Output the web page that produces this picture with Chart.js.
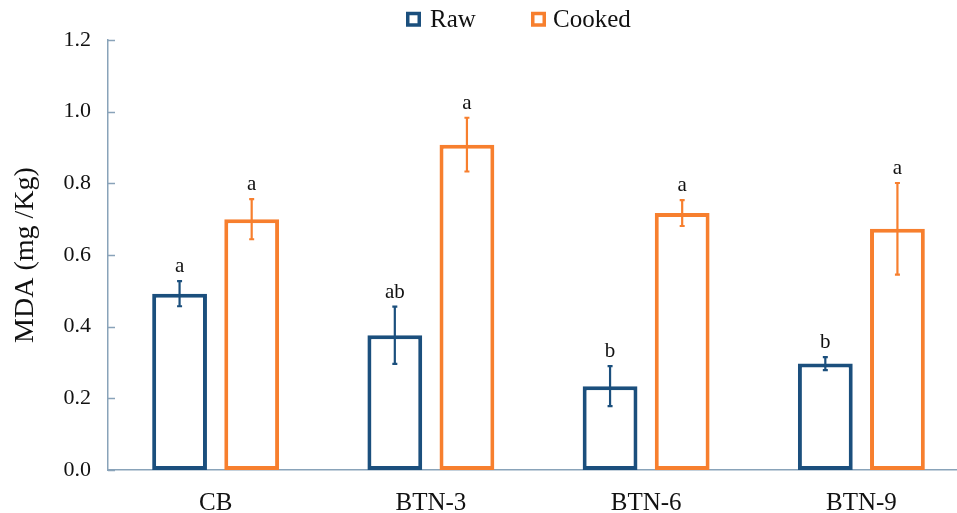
<!DOCTYPE html>
<html>
<head>
<meta charset="utf-8">
<title>MDA chart</title>
<script src="https://cdn.jsdelivr.net/npm/chart.js@4.4.1/dist/chart.umd.min.js"></script>
<style>
  html, body { margin: 0; padding: 0; background: #fff; overflow: hidden; }
  #wrap { width: 969px; height: 513px; }
</style>
</head>
<body>
<div id="wrap"><canvas id="mdaChart" width="969" height="513"></canvas></div>
<script>
// MDA values, raw vs cooked
const categories = ['CB', 'BTN-3', 'BTN-6', 'BTN-9'];
const rawMeans = [0.492, 0.376, 0.234, 0.297];
const rawErrors = [0.035, 0.080, 0.056, 0.018];
const cookedMeans = [0.700, 0.908, 0.717, 0.673];
const cookedErrors = [0.056, 0.075, 0.036, 0.128];
const rawLetters = ['a', 'ab', 'b', 'b'];
const cookedLetters = ['a', 'a', 'a', 'a'];
const yTicks = [0, 0.2, 0.4, 0.6, 0.8, 1.0, 1.2];

const errors = [rawErrors, cookedErrors];
const letters = [rawLetters, cookedLetters];

const RAW = '#1B4F7D';
const COOKED = '#F77F2E';
const AXIS = '#89A3B9';
const SERIF = "'Liberation Serif', 'Times New Roman', serif";

// error bars + significance letters
const errorBarPlugin = {
  id: 'errorBars',
  afterDatasetsDraw(chart) {
    const ctx = chart.ctx;
    const y = chart.scales.y;
    chart.data.datasets.forEach((ds, di) => {
      const meta = chart.getDatasetMeta(di);
      meta.data.forEach((bar, i) => {
        const top = y.getPixelForValue(ds.data[i] + errors[di][i]);
        const bottom = y.getPixelForValue(ds.data[i] - errors[di][i]);
        ctx.save();
        ctx.strokeStyle = ds.borderColor;
        ctx.lineWidth = 2.2;
        ctx.beginPath();
        ctx.moveTo(bar.x, top);
        ctx.lineTo(bar.x, bottom);
        ctx.moveTo(bar.x - 2.5, top);
        ctx.lineTo(bar.x + 2.5, top);
        ctx.moveTo(bar.x - 2.5, bottom);
        ctx.lineTo(bar.x + 2.5, bottom);
        ctx.stroke();
        ctx.fillStyle = '#111';
        ctx.font = '21px ' + SERIF;
        ctx.textAlign = 'center';
        ctx.textBaseline = 'bottom';
        ctx.fillText(letters[di][i], bar.x, top - 4);
        ctx.restore();
      });
    });
  }
};

// inward tick marks on the y axis
const innerTicksPlugin = {
  id: 'innerTicks',
  afterDraw(chart) {
    const ctx = chart.ctx;
    const y = chart.scales.y;
    const x0 = chart.chartArea.left;
    ctx.save();
    ctx.strokeStyle = AXIS;
    ctx.lineWidth = 1.5;
    yTicks.forEach(v => {
      const py = Math.round(y.getPixelForValue(v)) + 0.5;
      ctx.beginPath();
      ctx.moveTo(x0, py);
      ctx.lineTo(x0 + 7, py);
      ctx.stroke();
    });
    ctx.restore();
  }
};

// hollow-square legend at the top
const legendPlugin = {
  id: 'squareLegend',
  afterDraw(chart) {
    const ctx = chart.ctx;
    const items = [
      { x: 406, tx: 430, color: RAW, text: chart.data.datasets[0].label },
      { x: 531, tx: 553, color: COOKED, text: chart.data.datasets[1].label }
    ];
    ctx.save();
    ctx.font = '25px ' + SERIF;
    ctx.textBaseline = 'alphabetic';
    ctx.textAlign = 'left';
    items.forEach(it => {
      ctx.strokeStyle = it.color;
      ctx.lineWidth = 3.5;
      ctx.strokeRect(it.x + 1.75, 13.5, 11.5, 11.5);
      ctx.fillStyle = '#111';
      ctx.fillText(it.text, it.tx, 27);
    });
    ctx.restore();
  }
};

new Chart(document.getElementById('mdaChart'), {
  type: 'bar',
  data: {
    labels: categories,
    datasets: [
      {
        label: 'Raw',
        data: rawMeans,
        backgroundColor: '#ffffff',
        borderColor: RAW,
        borderWidth: 4,
        borderSkipped: false
      },
      {
        label: 'Cooked',
        data: cookedMeans,
        backgroundColor: '#ffffff',
        borderColor: COOKED,
        borderWidth: 4,
        borderSkipped: false
      }
    ]
  },
  options: {
    responsive: false,
    animation: false,
    devicePixelRatio: 1,
    categoryPercentage: 0.67,
    barPercentage: 0.76,
    layout: { padding: { top: 40, left: 0, right: 0, bottom: 0 } },
    plugins: {
      legend: { display: false },
      tooltip: { enabled: false }
    },
    scales: {
      x: {
        grid: { display: false },
        border: { display: true, color: AXIS, width: 1.5 },
        ticks: {
          color: '#111',
          padding: 10,
          font: { family: SERIF, size: 25 }
        },
        afterFit: s => { s.height = 43; }
      },
      y: {
        min: 0,
        max: 1.2,
        grid: { display: false },
        border: { display: true, color: AXIS, width: 1.5 },
        afterBuildTicks: s => { s.ticks = yTicks.map(v => ({ value: v })); },
        ticks: {
          color: '#111',
          padding: 9,
          font: { family: SERIF, size: 22 },
          callback: v => Number(v).toFixed(1)
        },
        title: {
          display: true,
          text: 'MDA (mg /Kg)',
          color: '#111',
          font: { family: SERIF, size: 28 },
          padding: { top: 9, bottom: 0 }
        },
        afterFit: s => { s.width = 108; }
      }
    }
  },
  plugins: [errorBarPlugin, innerTicksPlugin, legendPlugin]
});
</script>
</body>
</html>
